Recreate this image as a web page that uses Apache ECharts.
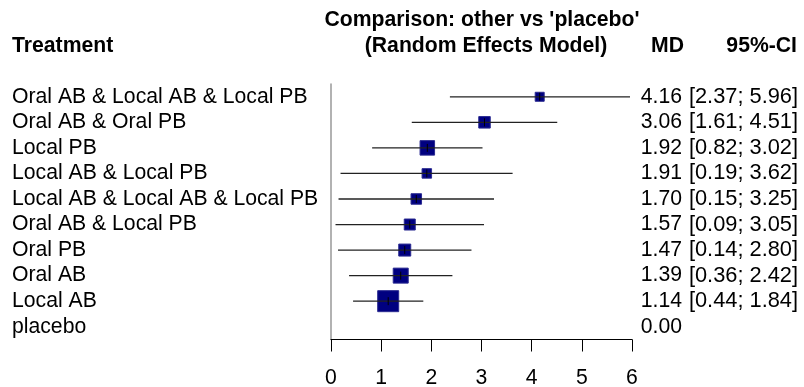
<!DOCTYPE html>
<html>
<head>
<meta charset="utf-8">
<script src="https://cdn.jsdelivr.net/npm/echarts@6/dist/echarts.min.js"></script>
<style>
html,body{margin:0;padding:0;background:#fff;}
#chart{width:804px;height:387px;}
</style>
</head>
<body>
<div id="chart"></div>
<script>
var categories = ['Oral AB & Local AB & Local PB','Oral AB & Oral PB','Local PB','Local AB & Local PB','Local AB & Local AB & Local PB','Oral AB & Local PB','Oral PB','Oral AB','Local AB','placebo'];
var md    = [4.16, 3.06, 1.92, 1.91, 1.70, 1.57, 1.47, 1.39, 1.14, 0.00];
var lower = [2.37, 1.61, 0.82, 0.19, 0.15, 0.09, 0.14, 0.36, 0.44, null];
var upper = [5.96, 4.51, 3.02, 3.62, 3.25, 3.05, 2.80, 2.42, 1.84, null];
var weights = [9, 11.5, 14.5, 9.5, 10.5, 11, 12, 15, 21, null];
var xTicks = [0, 1, 2, 3, 4, 5, 6];

var FONT = 'Liberation Sans, Arial, sans-serif';
var FS = 21.2;

function fmt(v){ return v == null ? '' : v.toFixed(2); }

var seriesData = categories.map(function(c, i){
  return [md[i], i, lower[i] == null ? '-' : lower[i], upper[i] == null ? '-' : upper[i], weights[i] == null ? '-' : weights[i]];
});

var chart = echarts.init(document.getElementById('chart'), null, {renderer:'canvas'});
chart.setOption({
  animation: false,
  backgroundColor: '#fff',
  grid: {left: 331, right: 172, top: 84, bottom: 47.5, containLabel: false, outerBoundsMode: 'none'},
  xAxis: {
    type: 'value', min: xTicks[0], max: xTicks[xTicks.length-1], interval: 1,
    axisLine: {show: true, onZero: false, lineStyle: {color: '#000', width: 1}},
    axisTick: {show: true, length: 12, lineStyle: {color: '#000', width: 1}},
    axisLabel: {color: '#000', fontSize: FS, fontFamily: FONT, margin: 28},
    splitLine: {show: false}
  },
  yAxis: {
    type: 'category', data: categories, inverse: true,
    axisLine: {show: true, lineStyle: {color: '#999', width: 1.5}},
    axisTick: {show: false},
    axisLabel: {color: '#000', fontSize: FS, fontFamily: FONT, align: 'left', margin: 319, interval: 0, hideOverlap: false},
    splitLine: {show: false}
  },
  graphic: [
    {type: 'text', x: 12, y: 46, style: {text: 'Treatment', font: 'bold ' + FS + 'px ' + FONT, fill: '#000', textAlign: 'left', textVerticalAlign: 'middle'}},
    {type: 'text', x: 482, y: 20, style: {text: "Comparison: other vs 'placebo'", font: 'bold ' + FS + 'px ' + FONT, fill: '#000', textAlign: 'center', textVerticalAlign: 'middle'}},
    {type: 'text', x: 486, y: 46, style: {text: '(Random Effects Model)', font: 'bold ' + FS + 'px ' + FONT, fill: '#000', textAlign: 'center', textVerticalAlign: 'middle'}},
    {type: 'text', x: 684, y: 46, style: {text: 'MD', font: 'bold ' + FS + 'px ' + FONT, fill: '#000', textAlign: 'right', textVerticalAlign: 'middle'}},
    {type: 'text', x: 797, y: 46, style: {text: '95%-CI', font: 'bold ' + FS + 'px ' + FONT, fill: '#000', textAlign: 'right', textVerticalAlign: 'middle'}}
  ],
  series: [{
    type: 'custom',
    clip: false,
    encode: {x: [0, 2, 3], y: 1},
    data: seriesData,
    renderItem: function(params, api){
      var i = api.value(1);
      var est = api.value(0);
      var lo = api.value(2), hi = api.value(3), w = api.value(4);
      var c = api.coord([est, i]);
      var right = api.coord([xTicks[xTicks.length-1], i]);
      var children = [];
      if (!isNaN(lo) && !isNaN(hi)) {
        var p1 = api.coord([lo, i]), p2 = api.coord([hi, i]);
        var s = w;
        children.push({type: 'rect', shape: {x: c[0] - s/2, y: c[1] - s/2, width: s, height: s},
          style: {fill: '#000080', stroke: '#2a2a90', lineWidth: 1}});
        children.push({type: 'line', shape: {x1: p1[0], y1: c[1], x2: p2[0], y2: c[1]},
          style: {stroke: '#222', lineWidth: 1.3}});
        children.push({type: 'line', shape: {x1: c[0], y1: c[1] - 4, x2: c[0], y2: c[1] + 4},
          style: {stroke: '#000', lineWidth: 1}});
      }
      var k = params.dataIndex;
      children.push({type: 'text', x: right[0] + 50, y: c[1],
        style: {text: fmt(md[k]), font: FS + 'px ' + FONT, fill: '#000', textAlign: 'right', textVerticalAlign: 'middle'}});
      if (lower[k] != null) {
        children.push({type: 'text', x: right[0] + 166, y: c[1],
          style: {text: '[' + fmt(lower[k]) + '; ' + fmt(upper[k]) + ']', font: '21.8px ' + FONT, fill: '#000', textAlign: 'right', textVerticalAlign: 'middle'}});
      }
      return {type: 'group', children: children};
    }
  }]
});
</script>
</body>
</html>
